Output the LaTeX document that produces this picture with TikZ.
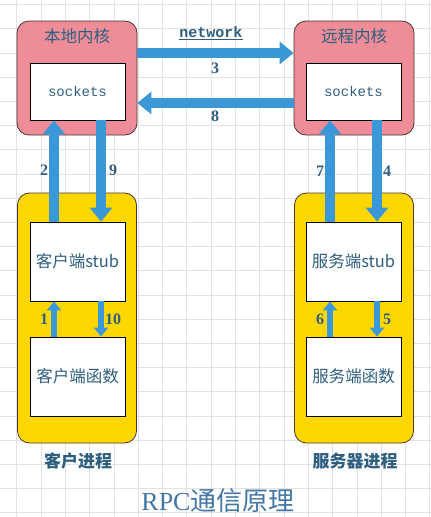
\documentclass[tikz,border=0pt]{standalone}
\usepackage{fontspec}
\setmainfont{Liberation Serif}
\newfontfamily\cjk{Noto Sans CJK SC}
\newfontfamily\monof{Liberation Mono}
\usetikzlibrary{arrows.meta}
\definecolor{txt}{HTML}{2F5F80}
\definecolor{ttlc}{HTML}{4577A6}
\definecolor{arr}{HTML}{3B98D8}
\definecolor{pinkk}{HTML}{EE8C98}
\definecolor{yel}{HTML}{FFD700}
\definecolor{gridc}{HTML}{E2E2E2}
\definecolor{edge}{HTML}{4A3434}
\tikzset{
  kernelbox/.style={draw=edge, line width=0.8pt, fill=pinkk, rounded corners=12pt, minimum width=120pt, minimum height=114pt},
  procbox/.style={draw=edge, line width=0.8pt, fill=yel, rounded corners=12pt, minimum width=119pt, minimum height=250pt},
  whitebox/.style={draw=black, line width=0.8pt, fill=white, minimum width=95pt, text=txt, inner sep=0pt},
  boxtitle/.style={text=txt, font=\cjk\fontsize{16.5}{16.5}\selectfont, inner sep=0pt},
  numlab/.style={text=txt, font=\bfseries\fontsize{16}{16}\selectfont, inner sep=0pt},
  biglink/.style={draw=arr, line width=10pt, -{Triangle[width=22pt,length=14pt]}},
  smalllink/.style={draw=arr, line width=6pt, -{Triangle[width=14pt,length=9pt]}},
  proclab/.style={text=txt, font=\cjk\bfseries\fontsize{17}{17}\selectfont, inner sep=0pt},
}
\begin{document}
\begin{tikzpicture}[x=1pt,y=-1pt]
\useasboundingbox (0,0) rectangle (431,517);
\fill[white] (0,0) rectangle (431,517);
\foreach \i in {0,...,18} \draw[gridc, line width=0.8pt] ({-7.6+24.3*\i},0) -- ++(0,517);
\foreach \i in {0,...,21} \draw[gridc, line width=0.8pt] (0,{4.5+24.2*\i}) -- ++(431,0);

% kernels
\node[kernelbox] (lk) at (77,78) {};
\node[kernelbox] (rk) at (354,78) {};
\node[boxtitle] (lkt) at (77,36) {本地内核};
\node[boxtitle] (rkt) at (354,36) {远程内核};
\node[whitebox, minimum height=57pt, font=\monof\fontsize{14}{14}\selectfont] (ls) at (77.5,91.5) {sockets};
\node[whitebox, minimum height=57pt, font=\monof\fontsize{14}{14}\selectfont] (rs) at (353.5,91.5) {sockets};

% processes
\node[procbox] (lp) at (77,318) {};
\node[procbox] (rp) at (354,318) {};
\node[whitebox, minimum height=79pt, font=\cjk\fontsize{16.5}{16.5}\selectfont] (lstub) at (77.5,261.5) {客户端stub};
\node[whitebox, minimum height=79pt, font=\cjk\fontsize{16.5}{16.5}\selectfont] (lfun) at (77.5,376.5) {客户端函数};
\node[whitebox, minimum height=79pt, font=\cjk\fontsize{16.5}{16.5}\selectfont] (rstub) at (353.5,261.5) {服务端stub};
\node[whitebox, minimum height=79pt, font=\cjk\fontsize{16.5}{16.5}\selectfont] (rfun) at (353.5,376.5) {服务端函数};

% network arrows
\draw[biglink] ([yshift=25pt]lk.east) -- ([yshift=25pt]rk.west);
\draw[biglink] ([yshift=-25pt]rk.west) -- ([yshift=-25pt]lk.east);
\node[text=txt, font=\monof\bfseries\fontsize{15}{15}\selectfont, inner sep=0pt] (net) at (211,33) {\underline{network}};
\node[numlab] (n3) at (215,68) {3};
\node[numlab] (n8) at (215,116) {8};

% kernel <-> stub arrows
\draw[biglink] ([xshift=-23.5pt]lstub.north) -- ([xshift=-23.5pt]ls.south);
\draw[biglink] ([xshift=23.5pt]ls.south) -- ([xshift=23.5pt]lstub.north);
\draw[biglink] ([xshift=-23.5pt]rstub.north) -- ([xshift=-23.5pt]rs.south);
\draw[biglink] ([xshift=23.5pt]rs.south) -- ([xshift=23.5pt]rstub.north);
\node[numlab] (n2) at (44,170) {2};
\node[numlab] (n9) at (113,170) {9};
\node[numlab] (n7) at (320,171) {7};
\node[numlab] (n4) at (387,171) {4};

% stub <-> function arrows
\draw[smalllink] ([xshift=-23.5pt]lfun.north) -- ([xshift=-23.5pt]lstub.south);
\draw[smalllink] ([xshift=23.5pt]lstub.south) -- ([xshift=23.5pt]lfun.north);
\draw[smalllink] ([xshift=-23.5pt]rfun.north) -- ([xshift=-23.5pt]rstub.south);
\draw[smalllink] ([xshift=23.5pt]rstub.south) -- ([xshift=23.5pt]rfun.north);
\node[numlab] (n1) at (44,319) {1};
\node[numlab] (n10) at (113,319) {10};
\node[numlab] (n6) at (320,319) {6};
\node[numlab] (n5) at (387,319) {5};

% captions
\node[proclab] (lpl) at (78,461) {客户进程};
\node[proclab] (rpl) at (355,461) {服务器进程};
\node[text=ttlc, font=\fontsize{26}{26}\selectfont, inner sep=0pt] (title) at (218,501) {RPC{\cjk 通信原理}};
\end{tikzpicture}
\end{document}
